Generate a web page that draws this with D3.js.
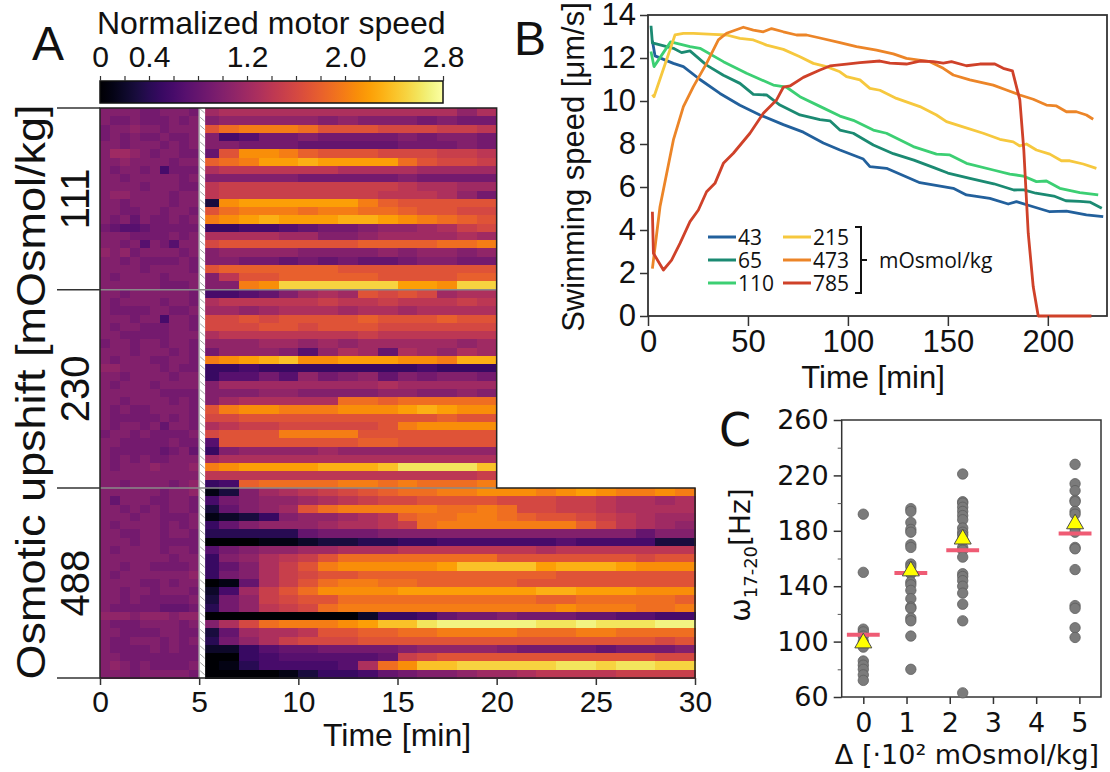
<!DOCTYPE html>
<html>
<head>
<meta charset="utf-8">
<script src="https://cdn.jsdelivr.net/npm/d3@7"></script>
<style>
  body { margin: 0; background: #fff; }
  svg text { font-family: "Liberation Sans", Arial, sans-serif; fill: #111; }
</style>
</head>
<body>
<svg id="fig" width="1110" height="772"></svg>
<script>

// ---------- panel A data : motor speed per cell ----------
// one char per cell, value = index in codeChars / 10  (0 .. 2.8)
var codeChars = "0123456789ABCDEFGHIJKLMNOPQRS";
var groupNames = ["111", "230", "488"];
var groupEnd = [20, 20, 30];          // last recorded minute per group

// before the upshift, 0.5 min cells (0 - 5 min)
var pre111 = ["AAAA99AAA9","A99A999A9A","9AABAA9AAA","9A9A99A99A","AA9AAA9A9A","ACCBA9AA99",
  "AABAAAA9AA","A9AA9A6999","AA9AAAAA9A","AAAA9AAA99","ABBAAAA9AA","AA9AAAA9AA","AA99AA9AA9",
  "A9A8A99A9A","9877899999","AAA9999A9A","AA9A7A97AA","BAB9AAAA9A","AA9A9999A9","AAAA9AAAA9",
  "A9AAAA9AAA","AAAAAA999A"];
var pre230 = ["AA9AAAAAA9","A9AAAA9AA9","A9999AA99A","AAA9AA6AA9","A9AA999AA9","AA99999AAA",
  "9AA9AA9AA9","AAA9AAA9A9","A9AAA99AA9","BBAAAA9A99","AA9AAAA9AA","A9AAA9AAAA","AAAAAA9999",
  "AA9AAAA9A9","A9A99AAAA9","A99999A9A9","A9AA9A8AA9","9AA9A9999A","AA99999A99","A9999989A8",
  "A9A9A99AAA","A9AAABAAAB","AAAAAAAAAA","AA9AAAA9AB"];
var pre488 = ["AAAAAA9AAB","A8AAA99AA9","AA9A9A9AA9","AAA9AA999A","A9AAAA9A9A","AA99AA9AA9",
  "AAA9AA9999","A9AAAA9AA9","AAAAAAA9AA","AA9AA9999A","A9AAAAAAAB","AAAA99A9AA","AA9AA9AAA9",
  "AA9A99999A","A999998889","BBBABBBABB","A999AAAA9A","AA9999AA99","A99AAA9A9A","A9999A9A99",
  "AA99999999","ABA9A9999A","AAA9AAAAA9"];

// after the upshift, first cell 5.3-6 min, then 1 min cells
var post111 = ["CDDDDDDDDDDDDBD","ABBBBBABAAA9A99","HJKKKJHHHGGGFFE","A6799A9999A9AA9",
  "AA99988888999A9","8HLLKIHHHGGGFFE","IJKMMNMMMMJHGGF","DEEEEEEDDDDCCCC","AAAAA99999A9999",
  "EFFFFFFFFFEDDCC","EFFFFFFFFEEEDB9","3LMMMMMMKIHHHHH","HJKKKJKKJJIHHGG","KLMNMMMNNMLKJIH",
  "55667899ABBCDFG","DDDDCCAABCCCCDC","GHHHHHHHIIIIJJK","ABBBBAAAABABBAB","AA998989889AA99",
  "HIIIIIIHHHHHHHH","AEHHIIIIIHHHHII","AAKLPPPPPPMMLPP"];
var post230 = ["6678ACDCHGHGCDD","DEEEEEFEEFEEEFE","CCBCDDDCDDCDDDD","GGHGHHHHIHHHIHH",
  "GGGHHGHHHGGGGGG","DEEEEEEEFEEEEEE","BBBCCBCBCCCCCBC","9BBBA7BDC8DCBDC","KLMNOLLMMMLLKNN",
  "556555555556555","57797B9AB8A9AA9","ACCCCCCCCDCCCCC","AAABBAAAABBAABA","ACDDDDDJJIJJJJJ",
  "HKLLKKKLLLMNMLL","GGHHHHHHHHHHIHH","DEFFGGGGGHKLLLL","GHHHKKKKHHHHHHH","7HHHHHHHIIHHHHH",
  "5ABBBBCBBBBBBBB","CDDDDDDDDDDDDDD","KLMMMMNNNOQQQQO","EEEEEEEEEEEEEEF","56IJJJJKKJKJJJK"];
var post488 = ["13ACDEFGHIJJKKLLLKLMLKKLK","69ABBCDEFGGHHHHGGGFFEDDCD","38ABCHJKKKKKJJKJGGFFEDDDD",
  "1235ABBCDEIJJKKJIHHGFEDCC","58ABBBCDDEFJKKKKKKKIGEDCB","444448999AAAAAAAAAAAAA8AA",
  "0001123344556666667666633","79ABBCCDDDEEEEEEEDEEEEEEE","5ABDEFHJJJJJJJJHHHHHHHGHH",
  "58ADFHKLLLLLMOOOOMNNNMLLL","59ADFGHHIIIIIIIIIIHHHHHHH","018DFHJKKJJIIIIIHHHHHHHHH",
  "26CFHJLLLLMMMMMMMNNMMMLLL","39BFGHHJJJJJJJJJJIIJJJJJI","49BEFGJKKKKKKKKKKKLKKKJJK",
  "000000002556899A999887766","ADGJKKKLMOOQRRRRRQQRQQQRR","38CDDEHHIIJJKKKKJJJKKJJJJ",
  "49BDFGGGHHHHHHHHHHHHHHHGH","2257889999ABBBBA99998999A","0056777778FGHHHHHHHHHHHGG",
  "01466667DJLOOPPPPPQQPQQPP","00001355689AABCCDEEEEFFFF"];

var cbTicks = [0, 0.4, 1.2, 2.0, 2.8];

// ---------- panel B data : [time min, speed um/s] ----------
var bNames = ["43", "65", "110", "215", "473", "785"];
var bColors = ["#22609c", "#1b8a72", "#3ccf73", "#f6c83e", "#ec8528", "#cf4129"];
var s43 = [[2.2,12.8],[3.5,12.1],[12.7,11.75],[17.7,11.6],[26,11.0],[36,10.35],[46,9.8],[56,9.35],
  [67.7,8.9],[77.7,8.55],[87.7,8.05],[96,7.72],[107.7,7.3],[111,6.95],[119.3,6.87],[136,6.2],
  [152.7,5.94],[159.3,5.63],[171,5.47],[180.2,5.21],[184.3,5.32],[192.7,5.08],[201,4.85],
  [209.3,4.88],[219.3,4.7],[227.7,4.62]];
var s65 = [[1.5,13.5],[2.2,12.7],[12.7,12.45],[16.8,12.25],[21,12.33],[29.3,11.67],[37.7,11.2],
  [46,10.82],[52.7,10.31],[59.3,10.28],[66,9.81],[76,9.35],[86,9.13],[91,9.08],[96,8.65],
  [102.7,8.5],[112.7,7.95],[122.7,7.55],[133,7.25],[143,6.9],[150,6.65],[161,6.4],[173,6.15],
  [183,5.86],[188,5.87],[194,5.71],[203,5.58],[209,5.36],[216,5.33],[221,5.3],[227,5.01]];
var s110 = [[1.5,12.3],[3,11.6],[11.3,12.75],[21,12.53],[26,12.45],[37.7,11.83],[49.3,11.29],
  [62.7,10.74],[69.3,10.64],[76,10.2],[86,9.75],[96,9.3],[102.7,9.1],[112.7,8.65],[119.3,8.5],
  [132.7,7.88],[144.3,7.53],[151,7.49],[159.3,7.1],[172.7,6.79],[181,6.6],[187.7,6.51],
  [194.3,6.25],[199.3,6.28],[206,5.94],[216,5.74],[225.2,5.63]];
var s215 = [[2.2,10.3],[3,10.2],[13.5,13.07],[17.7,13.15],[22.7,13.15],[32.7,13.1],[39.3,13.07],
  [46,12.91],[52.7,12.84],[59.3,12.6],[67.7,12.4],[76,12.06],[82.7,11.75],[89.3,11.6],[96,11.36],
  [99.3,11.13],[106,10.98],[111,10.59],[116,10.5],[124.3,10.12],[136,9.74],[144.3,9.35],
  [149.3,9.04],[156,8.84],[167.7,8.5],[176,8.22],[182.7,8.1],[186,7.91],[189.3,8.0],[194.3,7.72],
  [201,7.53],[206.8,7.22],[211,7.22],[217.7,7.07],[224.3,6.87]];
var s473 = [[2.2,2.2],[6,5.08],[12.7,8.19],[17.7,9.74],[22.7,10.67],[29.3,11.75],[35.2,12.84],
  [39.3,13.15],[47.7,13.43],[52.7,13.3],[57.7,13.22],[61.8,13.37],[67.7,13.22],[74.3,13.07],
  [79.3,13.07],[86,12.93],[96,12.71],[104.3,12.53],[114.3,12.37],[122.7,12.19],[129.3,11.98],
  [141,11.83],[147.7,11.52],[152.7,11.21],[161,10.98],[172.7,10.74],[179.3,10.51],[186,10.28],
  [192.7,10.08],[199.3,9.81],[204.3,9.77],[209.3,9.5],[214.3,9.5],[219.3,9.35],[222.7,9.15]];
var s785 = [[2.2,4.85],[2.7,2.92],[7.7,2.14],[11.8,2.6],[16,3.38],[21,4.39],[25.2,4.93],
  [29.3,5.78],[33.5,6.17],[37.7,7.1],[42.7,7.57],[51,8.5],[57.7,9.43],[64.3,10.05],[67.7,10.64],
  [71,10.7],[77.7,11.1],[86,11.44],[91,11.63],[99.3,11.72],[106,11.78],[116,11.86],[121,11.76],
  [129.3,11.72],[136,11.86],[142.7,11.83],[147.7,11.76],[151.8,11.83],[159.3,11.64],[166,11.72],
  [173.5,11.72],[177.7,11.52],[182.3,11.4],[186,10.05],[188,7.7],[190.2,3.85],[192.7,1.36],
  [195.2,0],[221.8,0]];

// ---------- panel C data ----------
var cGroupX = [0, 1.1, 2.3, 4.9];
var cPts0 = [192,150,109,107,104,100,96,86,83,80,76,72];
var cPts1 = [196,194,186,181,179,170,168,156,154,149,143,141,137,131,125,124,117,115,104,80];
var cPts2 = [221,201,200,197,194,191,188,182,179,177,174,168,166,161,149,147,144,140,135,127,115,63];
var cPts5 = [228,214,209,202,201,194,192,182,179,168,167,152,126,124,110,103];
var cMeanBar = [105, 149.5, 166, 178];
var cTriangle = [99, 151, 174, 185];

var svg = d3.select("#fig");

// =================== panel A ===================
var groupsPre = [pre111, pre230, pre488];
var groupsPost = [post111, post230, post488];
var rows = [];
groupsPre.forEach(function(g, gi) {
  g.forEach(function(p, i) {
    rows.push({ group: gi, pre: p, post: groupsPost[gi][i] });
  });
});

var xA = d3.scaleLinear().domain([0, 30]).range([100, 695]);
var yA = d3.scaleBand().domain(d3.range(rows.length)).range([108, 678]);
var color = d3.scaleSequential(d3.interpolateInferno).domain([0, 2.8]);
function val(c) { return codeChars.indexOf(c) / 10; }

var preEdges = d3.range(0, 5.01, 0.5);
var postEdges = [5.3].concat(d3.range(6, 31, 1));

var cells = [];
rows.forEach(function(r, ri) {
  r.pre.split("").forEach(function(c, i) {
    cells.push({ row: ri, t0: preEdges[i], t1: preEdges[i + 1], v: val(c) });
  });
  var end = groupEnd[r.group];
  r.post.split("").forEach(function(c, i) {
    var t1 = Math.min(postEdges[i + 1], end);
    if (postEdges[i] < end) cells.push({ row: ri, t0: postEdges[i], t1: t1, v: val(c) });
  });
});

var heat = svg.append("g").attr("shape-rendering", "crispEdges");
heat.selectAll("rect")
  .data(cells)
  .enter()
  .append("rect")
    .attr("x", function(d) { return xA(d.t0); })
    .attr("y", function(d) { return yA(d.row); })
    .attr("width", function(d) { return xA(d.t1) - xA(d.t0) + 0.6; })
    .attr("height", yA.bandwidth() + 0.6)
    .attr("fill", function(d) { return color(d.v); });

// white gap at the upshift
svg.append("rect")
  .attr("x", xA(5)).attr("y", 108)
  .attr("width", xA(5.3) - xA(5)).attr("height", 570)
  .attr("fill", "#fff");
svg.append("line")
  .attr("x1", xA(5)).attr("x2", xA(5)).attr("y1", 108).attr("y2", 678)
  .attr("stroke", "#b0b0b0").attr("stroke-width", 1.5);
svg.append("g").selectAll("line")
  .data(d3.range(rows.length))
  .enter()
  .append("line")
    .attr("x1", xA(5) + 1).attr("x2", xA(5) + 5.5)
    .attr("y1", function(d) { return yA(d) + 1; })
    .attr("y2", function(d) { return yA(d) + 5; })
    .attr("stroke", "#a0a0a0").attr("stroke-width", 1);

// group separators and outline
var groupStarts = [0, pre111.length, pre111.length + pre230.length];
var boundaries = groupStarts.map(function(s) { return yA(s); }).concat([678]);
svg.selectAll(".gsep")
  .data(boundaries.slice(1, 3))
  .enter()
  .append("line")
    .attr("x1", 100).attr("x2", xA(20))
    .attr("y1", function(d) { return d; }).attr("y2", function(d) { return d; })
    .attr("stroke", "#8a8a8a").attr("stroke-width", 1.5);

svg.append("path")
  .attr("d", "M" + xA(0) + "," + 108 + "H" + xA(20) + "V" + boundaries[2] +
       "H" + xA(30) + "V678H" + xA(0) + "Z")
  .attr("fill", "none").attr("stroke", "#222").attr("stroke-width", 1.5);

// long ticks on the left
svg.selectAll(".gtick")
  .data(boundaries)
  .enter()
  .append("line")
    .attr("x1", 57).attr("x2", 100)
    .attr("y1", function(d) { return d; }).attr("y2", function(d) { return d; })
    .attr("stroke", "#333").attr("stroke-width", 1.5);

groupNames.forEach(function(n, i) {
  var cy = (boundaries[i] + boundaries[i + 1]) / 2;
  svg.append("text")
    .attr("transform", "translate(89," + cy + ") rotate(-90)")
    .attr("text-anchor", "middle")
    .style("font-size", "40px")
    .text(n);
});

svg.append("text")
  .attr("transform", "translate(45,392) rotate(-90)")
  .attr("text-anchor", "middle")
  .attr("textLength", 575).attr("lengthAdjust", "spacingAndGlyphs")
  .style("font-size", "41px")
  .text("Osmotic upshift [mOsmol/kg]");

// x axis A
var axA = svg.append("g")
  .attr("transform", "translate(0,678)")
  .call(d3.axisBottom(xA).tickValues(d3.range(0, 31, 5)).tickSize(7).tickPadding(6));
axA.select(".domain").remove();
axA.selectAll("line").attr("stroke", "#333").attr("stroke-width", 1.5);
axA.selectAll("text").style("font-size", "30px").attr("fill", "#111");

svg.append("text")
  .attr("x", 397).attr("y", 746)
  .attr("text-anchor", "middle")
  .style("font-size", "32px")
  .text("Time [min]");

svg.append("text")
  .attr("x", 32).attr("y", 60)
  .style("font-size", "48px")
  .text("A");

// colour bar
var cb = d3.scaleLinear().domain([0, 2.8]).range([100, 443]);
var grad = svg.append("defs").append("linearGradient").attr("id", "cbgrad");
grad.selectAll("stop")
  .data(d3.range(0, 2.81, 0.1))
  .enter()
  .append("stop")
    .attr("offset", function(d) { return (d / 2.8 * 100) + "%"; })
    .attr("stop-color", function(d) { return color(d); });
svg.append("rect")
  .attr("x", cb(0)).attr("y", 81)
  .attr("width", cb(2.8) - cb(0)).attr("height", 22)
  .attr("fill", "url(#cbgrad)")
  .attr("stroke", "#111").attr("stroke-width", 1.5);

var axCb = svg.append("g")
  .attr("transform", "translate(0,81)")
  .call(d3.axisTop(cb)
    .tickValues(d3.range(0, 2.81, 0.2))
    .tickSize(5).tickPadding(9)
    .tickFormat(function(d) {
      var hit = cbTicks.filter(function(t) { return Math.abs(t - d) < 1e-6; });
      return hit.length ? (d === 0 ? "0" : d3.format(".1f")(d)) : "";
    }));
axCb.select(".domain").remove();
axCb.selectAll("line").attr("stroke", "#333").attr("stroke-width", 1.2);
axCb.selectAll("text").style("font-size", "30px").attr("fill", "#111");

svg.append("text")
  .attr("x", 97).attr("y", 34)
  .style("font-size", "32px")
  .text("Normalized motor speed");

// =================== panel B ===================
var xB = d3.scaleLinear().domain([0, 229.6]).range([648, 1107]);
var yB = d3.scaleLinear().domain([0, 14]).range([316, 15]);
var seriesB = [s43, s65, s110, s215, s473, s785];

svg.append("rect")
  .attr("x", 648).attr("y", 15)
  .attr("width", 1107 - 648).attr("height", 316 - 15)
  .attr("fill", "none").attr("stroke", "#333").attr("stroke-width", 1.8);

var lineB = d3.line()
  .x(function(d) { return xB(d[0]); })
  .y(function(d) { return yB(d[1]); });

svg.append("g").selectAll("path")
  .data(seriesB)
  .enter()
  .append("path")
    .attr("d", lineB)
    .attr("fill", "none")
    .attr("stroke", function(d, i) { return bColors[i]; })
    .attr("stroke-width", 2.8)
    .attr("stroke-linejoin", "round");

var axBy = svg.append("g")
  .attr("transform", "translate(648,0)")
  .call(d3.axisLeft(yB).tickValues(d3.range(0, 15, 2)).tickSize(8).tickPadding(4));
axBy.select(".domain").remove();
axBy.selectAll("line").attr("stroke", "#333").attr("stroke-width", 1.5);
axBy.selectAll("text").style("font-size", "31px").attr("fill", "#111");

var axBx = svg.append("g")
  .attr("transform", "translate(0,316)")
  .call(d3.axisBottom(xB).tickValues([0, 50, 100, 150, 200]).tickSize(10).tickPadding(4));
axBx.select(".domain").remove();
axBx.selectAll("line").attr("stroke", "#333").attr("stroke-width", 1.5);
axBx.selectAll("text").style("font-size", "31px").attr("fill", "#111");

svg.append("text")
  .attr("x", 873).attr("y", 388)
  .attr("text-anchor", "middle")
  .style("font-size", "31px")
  .text("Time [min]");

svg.append("text")
  .attr("transform", "translate(584,167) rotate(-90)")
  .attr("text-anchor", "middle")
  .style("font-size", "31px")
  .text("Swimming speed [\u03bcm/s]");

svg.append("text")
  .attr("x", 514).attr("y", 55)
  .style("font-size", "48px")
  .text("B");

// legend
var legRowY = [237, 260, 283];
var leg = svg.append("g");
bNames.forEach(function(n, i) {
  var col = Math.floor(i / 3), r = i % 3;
  var x0 = col === 0 ? 708 : 783;
  leg.append("line")
    .attr("x1", x0).attr("x2", x0 + 28)
    .attr("y1", legRowY[r]).attr("y2", legRowY[r])
    .attr("stroke", bColors[i]).attr("stroke-width", 3);
  leg.append("text")
    .attr("x", x0 + 30).attr("y", legRowY[r])
    .attr("dy", "0.36em")
    .style("font-family", "'Open Sans', sans-serif")
    .style("font-size", "21px")
    .text(n);
});
leg.append("path")
  .attr("d", "M855,227H861V293H855M861,260H867")
  .attr("fill", "none").attr("stroke", "#111").attr("stroke-width", 2);
leg.append("text")
  .attr("x", 879).attr("y", 260).attr("dy", "0.36em")
  .style("font-family", "'Open Sans', sans-serif")
  .style("font-size", "21px")
  .text("mOsmol/kg");

// =================== panel C ===================
var xC = d3.scaleLinear().domain([-0.5, 5.5]).range([841.7, 1101]);
var yC = d3.scaleLinear().domain([60, 260]).range([697, 420]);
var cFont = "'DejaVu Sans', sans-serif";

svg.append("rect")
  .attr("x", 841.7).attr("y", 420)
  .attr("width", 1101 - 841.7).attr("height", 697 - 420)
  .attr("fill", "none").attr("stroke", "#333").attr("stroke-width", 1.5);

var cGroups = [cPts0, cPts1, cPts2, cPts5];
var pts = [];
cGroups.forEach(function(g, gi) {
  g.forEach(function(v) { pts.push({ x: cGroupX[gi], v: v }); });
});

svg.append("g").selectAll("circle")
  .data(pts)
  .enter()
  .append("circle")
    .attr("cx", function(d) { return xC(d.x); })
    .attr("cy", function(d) { return yC(d.v); })
    .attr("r", 5.2)
    .attr("fill", "#7b7b7b")
    .attr("stroke", "#5e5e5e").attr("stroke-width", 0.8);

svg.append("g").selectAll("line")
  .data(cMeanBar)
  .enter()
  .append("line")
    .attr("x1", function(d, i) { return xC(cGroupX[i] - 0.38); })
    .attr("x2", function(d, i) { return xC(cGroupX[i] + 0.38); })
    .attr("y1", function(d) { return yC(d); })
    .attr("y2", function(d) { return yC(d); })
    .attr("stroke", "#ef5b74").attr("stroke-width", 4);

svg.append("g").selectAll("path")
  .data(cTriangle)
  .enter()
  .append("path")
    .attr("d", d3.symbol(d3.symbolTriangle).size(125))
    .attr("transform", function(d, i) {
      return "translate(" + xC(cGroupX[i]) + "," + yC(d) + ")";
    })
    .attr("fill", "#ffff00")
    .attr("stroke", "#4a4a4a").attr("stroke-width", 1);

var axCy = svg.append("g")
  .attr("transform", "translate(841.7,0)")
  .call(d3.axisLeft(yC).tickValues(d3.range(60, 261, 40)).tickSize(8).tickPadding(5));
axCy.select(".domain").remove();
axCy.selectAll("line").attr("stroke", "#333").attr("stroke-width", 1.5);
axCy.selectAll("text").style("font-family", cFont).style("font-size", "27px").attr("fill", "#111");

var axCyMinor = svg.append("g")
  .attr("transform", "translate(841.7,0)")
  .call(d3.axisLeft(yC).tickValues(d3.range(80, 241, 40)).tickSize(4).tickFormat(""));
axCyMinor.select(".domain").remove();
axCyMinor.selectAll("line").attr("stroke", "#555").attr("stroke-width", 1);

var axCx = svg.append("g")
  .attr("transform", "translate(0,697)")
  .call(d3.axisBottom(xC).tickValues([0, 1, 2, 3, 4, 5]).tickFormat(d3.format("d"))
    .tickSize(7).tickPadding(9));
axCx.select(".domain").remove();
axCx.selectAll("line").attr("stroke", "#333").attr("stroke-width", 1.5);
axCx.selectAll("text").style("font-family", cFont).style("font-size", "27px").attr("fill", "#111");

svg.append("text")
  .attr("x", 967).attr("y", 764)
  .attr("text-anchor", "middle")
  .style("font-family", cFont)
  .style("font-size", "27px")
  .text("\u0394 [\u00b710\u00b2 mOsmol/kg]");

var yTitle = svg.append("text")
  .attr("transform", "translate(750,555) rotate(-90)")
  .attr("text-anchor", "middle")
  .style("font-family", cFont)
  .style("font-size", "28px");
yTitle.append("tspan").text("\u03c9");
yTitle.append("tspan").attr("dy", 7).style("font-size", "18px").text("17-20");
yTitle.append("tspan").attr("dy", -7).text("[Hz]");

svg.append("text")
  .attr("x", 719).attr("y", 446)
  .style("font-family", cFont)
  .style("font-size", "46px")
  .text("C");

</script>
</body>
</html>
